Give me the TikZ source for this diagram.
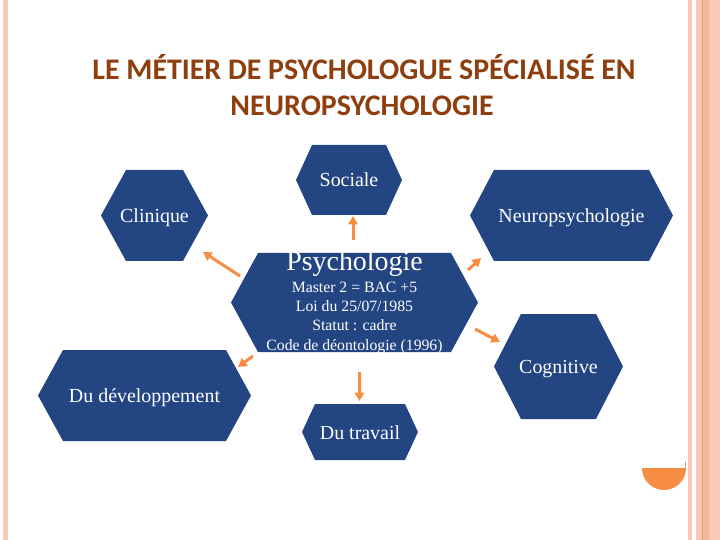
\documentclass[tikz,border=0pt]{standalone}
\usepackage{xcolor}
\usepackage{fontspec}
\setmainfont{Liberation Serif}
\newfontfamily\titlefont{Carlito}
\usepackage{tikz}
\usetikzlibrary{shapes, arrows.meta, positioning, backgrounds, calc}

\definecolor{hexblue}{RGB}{35,69,130}
\definecolor{arrorange}{RGB}{246,141,64}
\definecolor{titlebrown}{RGB}{143,62,14}
\definecolor{stripe}{RGB}{250,200,182}
\definecolor{stripedark}{RGB}{238,150,112}

\tikzset{
    hexnode/.style={inner sep=0pt, text=white, text height=14bp, text depth=0pt, font=\fontsize{20}{24}\selectfont},
    titletext/.style={inner sep=0pt, anchor=base, text=titlebrown, font=\titlefont\bfseries\fontsize{30}{36}\selectfont},
    arr/.style={-{Triangle[length=8.5bp, width=9.5bp]}, line width=3bp, draw=arrorange}
}

\begin{document}
\begin{tikzpicture}[x=1bp, y=-1bp]
                \useasboundingbox (0,0) rectangle (720,540);
                % side bands
                \fill[stripe] (3,0) rectangle (8,540);
                \fill[stripe] (688,0) rectangle (692,540);
                \fill[stripe] (696,0) rectangle (720,540);
                \fill[stripedark!35!stripe] (703,0) rectangle (709,540);
                \draw[stripedark, line width=1bp] (702.5,0) -- (702.5,540);

                \node[titletext] (title1) at (364,80) {LE MÉTIER DE PSYCHOLOGUE SPÉCIALISÉ EN};
                \node[titletext] (title2) at (362,116) {NEUROPSYCHOLOGIE};

                \node[inner sep=0pt, text=white, align=center, font=\fontsize{15.8}{19.5}\selectfont] (psy) at (354.5,302.5) {
                    {\fontsize{28}{28}\selectfont Psychologie}\\[2bp]
                    Master 2 = BAC +5\\
                    Loi du 25/07/1985\\
                    Statut : cadre\\
                    Code de déontologie (1996)
                };
                \node[hexnode] (soc) at (349,180) {Sociale};
                \node[hexnode] (cli) at (154.5,215.5) {Clinique};
                \node[hexnode] (neu) at (571.5,215.5) {Neuropsychologie};
                \node[hexnode] (cog) at (558.5,366.5) {Cognitive};
                \node[hexnode] (dev) at (144.5,395.5) {Du développement};
                \node[hexnode] (tra) at (360,432) {Du travail};

                \begin{scope}[on background layer]
                    \foreach \n/\w/\h/\i in {soc/53/35/16, cli/53.5/45.5/25, neu/101.5/45.5/24, psy/123.5/49.5/27,
                                            cog/64.5/52.5/27, dev/106.5/45.5/25, tra/58/28/13}
                        \fill[hexblue] (\n.center) ++(-\w,0) -- ++(\i,-\h) -- ++(2*\w-2*\i,0) -- ++(\i,\h)
                            -- ++(-\i,\h) -- ++(-2*\w+2*\i,0) -- cycle;
                \end{scope}

                \draw[arr] ($(psy.center)+(-1.5,-62.5)$) -- ($(soc.center)+(4,36)$);
                \draw[arr] ($(psy.center)+(-114.5,-26.5)$) -- ($(cli.center)+(48.5,36.5)$);
                \draw[arr] ($(psy.center)+(113.5,-32.5)$) -- ($(neu.center)+(-90.5,42.5)$);
                \draw[arr] ($(psy.center)+(120.5,26.5)$) -- ($(cog.center)+(-58.5,-24.5)$);
                \draw[arr] ($(psy.center)+(-101.5,53.5)$) -- ($(dev.center)+(93.5,-28.5)$);
                \draw[arr] ($(psy.center)+(5,69.5)$) -- ($(tra.center)+(-0.5,-31)$);

                % corner mark
                \fill[arrorange] (642,468) arc[start angle=180, end angle=0, radius=22] -- cycle;
                \draw[arrorange, line width=0.8bp] (685.5,462) -- (685.5,468);
            \end{tikzpicture}
\end{document}
